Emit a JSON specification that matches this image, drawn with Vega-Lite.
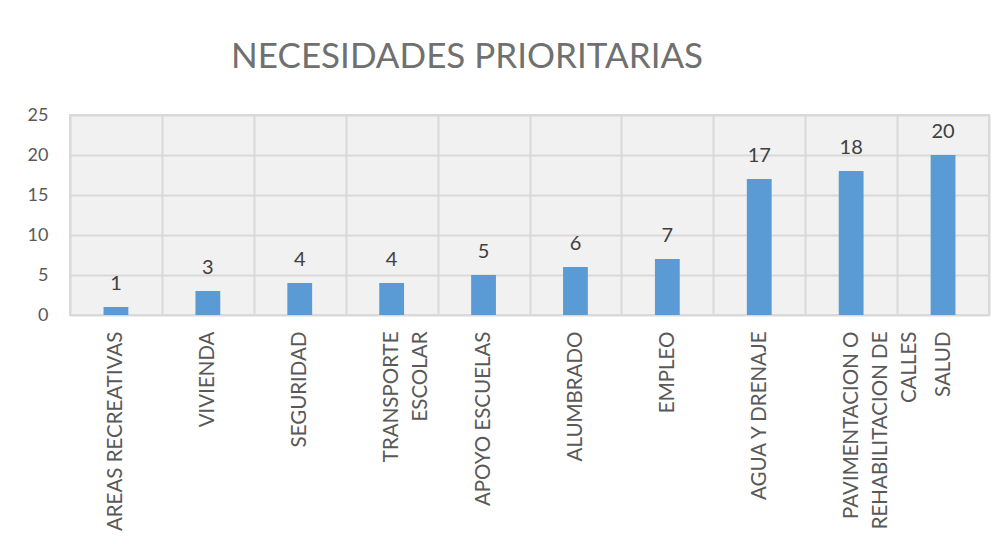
{
  "$schema": "https://vega.github.io/schema/vega-lite/v6.json",
  "autosize": "none",
  "width": 919,
  "height": 200,
  "padding": {"left": 70, "top": 115, "right": 17, "bottom": 229},
  "background": "white",
  "title": {
    "text": "NECESIDADES PRIORITARIAS",
    "anchor": "start",
    "dx": 204,
    "offset": 31,
    "font": "Lato",
    "fontSize": 35,
    "fontWeight": "normal",
    "color": "#707070"
  },
  "data": {
    "values": [
      {"necesidad": "AREAS RECREATIVAS", "valor": 1},
      {"necesidad": "VIVIENDA", "valor": 3},
      {"necesidad": "SEGURIDAD", "valor": 4},
      {"necesidad": "TRANSPORTE\nESCOLAR", "valor": 4},
      {"necesidad": "APOYO ESCUELAS", "valor": 5},
      {"necesidad": "ALUMBRADO", "valor": 6},
      {"necesidad": "EMPLEO", "valor": 7},
      {"necesidad": "AGUA Y DRENAJE", "valor": 17},
      {"necesidad": "PAVIMENTACION O\nREHABILITACION DE\nCALLES", "valor": 18},
      {"necesidad": "SALUD", "valor": 20}
    ]
  },
  "encoding": {
    "x": {
      "field": "necesidad",
      "type": "nominal",
      "sort": null,
      "scale": {"paddingInner": 0, "paddingOuter": 0},
      "axis": {
        "title": null,
        "labelAngle": -90,
        "labelAlign": "right",
        "labelBaseline": "middle",
        "labelPadding": 16,
        "labelFont": "Lato",
        "labelFontSize": 20.5,
        "labelColor": "#595959",
        "labelLineHeight": 29,
        "labelExpr": "datum.label == 'TRANSPORTE\\nESCOLAR' ? ['TRANSPORTE', 'ESCOLAR     '] : datum.label == 'PAVIMENTACION O\\nREHABILITACION DE\\nCALLES' ? ['PAVIMENTACION O ', 'REHABILITACION DE', 'CALLES                '] : datum.label",
        "tickBand": "extent",
        "ticks": false,
        "domain": false,
        "grid": true,
        "gridColor": "#d9d9d9",
        "gridWidth": 2,
        "labelLimit": 300
      }
    },
    "y": {
      "field": "valor",
      "type": "quantitative",
      "scale": {"domain": [0, 25]},
      "axis": {
        "title": null,
        "values": [0, 5, 10, 15, 20, 25],
        "ticks": false,
        "domain": false,
        "labelPadding": 22,
        "labelFont": "Lato",
        "labelFontSize": 18,
        "labelColor": "#595959",
        "gridColor": "#d9d9d9",
        "gridWidth": 2
      }
    }
  },
  "layer": [
    {
      "mark": {"type": "bar", "color": "#5b9bd5", "width": {"band": 0.27}}
    },
    {
      "mark": {
        "type": "text",
        "baseline": "alphabetic",
        "dy": -17,
        "font": "Lato",
        "fontSize": 20,
        "color": "#404040"
      },
      "encoding": {"text": {"field": "valor", "type": "quantitative"}}
    }
  ],
  "config": {
    "view": {"stroke": "#d9d9d9", "strokeWidth": 2, "fill": "#f1f1f1"}
  }
}
